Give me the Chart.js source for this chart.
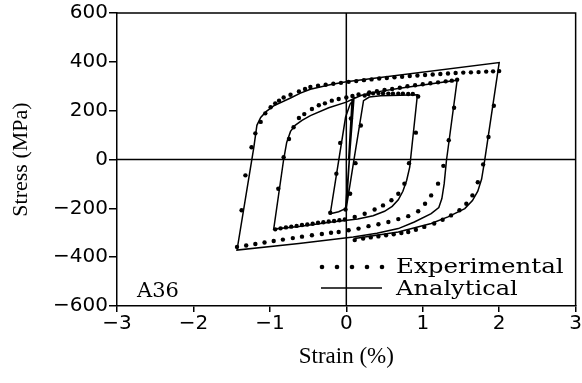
<!DOCTYPE html>
<html>
<head>
<meta charset="utf-8">
<script src="https://cdn.jsdelivr.net/npm/chart.js@4"></script>
<style>
  html, body { margin: 0; padding: 0; background: #fff; }
  #wrap { width: 582px; height: 383px; }
</style>
</head>
<body>
<div id="wrap"><canvas id="hysteresis" width="582" height="383"></canvas></div>
<script>
// strain (%), stress (MPa) pairs, in loading order
const analyticalSmall = [
  [0.03, 0], [0.075, 241], [0.10, 250], [-0.01, -201], [-0.10, -214], [-0.21, -222],
  [-0.01, 173], [0.05, 227], [0.09, 243], [0.0, -198], [0.095, -11], [0.225, 241],
  [0.30, 256], [0.45, 261], [0.70, 263], [0.93, 265]
];
const analyticalLoop2 = [
  [0.83, -30], [0.79, -85], [0.74, -130], [0.68, -165], [0.60, -192], [0.50, -212],
  [0.35, -230], [0.15, -244], [-0.19, -256], [-0.62, -274], [-0.95, -285],
  [-0.82, 0], [-0.78, 70], [-0.73, 115], [-0.67, 140], [-0.58, 160], [-0.47, 180],
  [-0.23, 212], [0.0, 235], [0.10, 250], [0.20, 263], [0.40, 277], [0.70, 292],
  [1.00, 305], [1.45, 325]
];
const analyticalLoop3 = [
  [1.31, -4], [1.28, -100], [1.25, -160], [1.21, -197], [1.11, -222], [0.89, -256],
  [0.68, -283], [0.40, -302], [0.09, -317], [-0.62, -344], [-1.43, -371]
];
const analyticalOuter = [
  [-1.21, 50], [-1.17, 140], [-1.12, 172], [-1.05, 196], [-0.95, 220], [-0.73, 252],
  [-0.60, 272], [-0.47, 288], [-0.20, 307], [0.0, 318], [2.0, 397],
  [1.81, -4], [1.77, -80], [1.72, -130], [1.65, -168], [1.55, -201], [1.33, -235],
  [1.11, -262], [0.68, -297], [0.11, -324]
];

const experimentalSmall = [
  [-0.21, -218], [-0.13, -58], [-0.08, 68], [0.06, 168], [-0.01, -205], [0.05, -140],
  [0.12, -15], [0.19, 139]
];
const experimentalLoop2 = [
  [0.24, 262], [0.29, 268], [0.35, 271], [0.42, 272], [0.48, 271], [0.55, 270],
  [0.61, 270], [0.68, 269], [0.74, 270], [0.81, 268], [0.87, 268], [0.94, 258],
  [0.91, 110], [0.82, -15], [0.76, -99], [0.68, -140], [0.59, -167], [0.48, -188],
  [0.37, -205], [0.24, -222], [0.11, -235], [-0.02, -246], [-0.09, -249], [-0.16, -252],
  [-0.23, -254], [-0.30, -257], [-0.37, -259], [-0.44, -263], [-0.51, -266], [-0.58, -268],
  [-0.65, -272], [-0.72, -275], [-0.79, -278], [-0.86, -282], [-0.93, -286],
  [-0.89, -120], [-0.82, 9], [-0.75, 84], [-0.69, 132], [-0.62, 170], [-0.55, 186],
  [-0.45, 207], [-0.36, 222], [-0.28, 230], [-0.19, 241], [-0.10, 248], [0.0, 254],
  [0.08, 260], [0.16, 266], [0.30, 275], [0.40, 280], [0.50, 285], [0.60, 289],
  [0.70, 294], [0.80, 300], [0.90, 304], [1.00, 308], [1.10, 312], [1.20, 316],
  [1.30, 320], [1.38, 323], [1.45, 327]
];
const experimentalLoop3 = [
  [1.41, 212], [1.34, 79], [1.27, -26], [1.20, -99], [1.11, -147], [1.03, -181],
  [0.94, -212], [0.81, -232], [0.68, -244], [0.55, -256], [0.42, -265], [0.29, -273],
  [0.16, -283], [0.03, -290], [-0.10, -297], [-0.20, -300], [-0.32, -305], [-0.45, -310],
  [-0.58, -316], [-0.70, -322], [-0.83, -328], [-0.95, -334], [-1.07, -340],
  [-1.19, -346], [-1.31, -352], [-1.43, -358]
];
const experimentalOuter = [
  [-1.37, -208], [-1.32, -65], [-1.24, 50], [-1.19, 107], [-1.12, 154], [-1.06, 189],
  [-0.99, 214], [-0.93, 230], [-0.88, 241], [-0.82, 254], [-0.73, 265], [-0.62, 279],
  [-0.54, 289], [-0.47, 297], [-0.37, 302], [-0.27, 306], [-0.17, 310], [-0.07, 314],
  [0.03, 318], [0.13, 321], [0.23, 325], [0.33, 328], [0.43, 332], [0.53, 334],
  [0.63, 337], [0.73, 339], [0.83, 342], [0.93, 344], [1.03, 346], [1.13, 348],
  [1.23, 350], [1.33, 352], [1.43, 354], [1.53, 356], [1.63, 357], [1.73, 358],
  [1.83, 360], [1.92, 361], [2.00, 362],
  [1.93, 220], [1.86, 92], [1.79, -20], [1.72, -93], [1.65, -147], [1.57, -181],
  [1.48, -208], [1.37, -229], [1.26, -247], [1.15, -262], [1.02, -276], [0.91, -288],
  [0.81, -297], [0.72, -301], [0.62, -306], [0.52, -310], [0.42, -315], [0.32, -319],
  [0.22, -324], [0.11, -330]
];

const strainTicks = [-3, -2, -1, 0, 1, 2, 3];
const stressTicks = [-600, -400, -200, 0, 200, 400, 600];
const legendLabels = ['Experimental', 'Analytical'];
const specimenLabel = 'A36';

const toPoints = pairs => pairs.map(p => ({ x: p[0], y: p[1] }));
const analytical = toPoints([].concat(analyticalSmall, analyticalLoop2, analyticalLoop3, analyticalOuter));
const experimental = toPoints([].concat(experimentalSmall, experimentalLoop2, experimentalLoop3, experimentalOuter));

const minus = v => String(v).replace('-', '\u2212');
const labelFont = '21px "DejaVu Serif"';

// stretched legend text, the original face is wider than DejaVu Serif
function wideText(ctx, text, x, y, stretch) {
  ctx.save();
  ctx.translate(x, y);
  ctx.scale(stretch, 1);
  ctx.fillText(text, 0, 0);
  ctx.restore();
}

const frame = {
  id: 'frame',
  beforeDatasetsDraw(chart) {
    const { ctx, chartArea: a, scales } = chart;
    const x0 = scales.x.getPixelForValue(0);
    const y0 = scales.y.getPixelForValue(0);
    ctx.save();
    ctx.strokeStyle = '#000';
    ctx.lineWidth = 1.5;
    ctx.beginPath();
    ctx.moveTo(a.left, a.top); ctx.lineTo(a.right, a.top); ctx.lineTo(a.right, a.bottom);
    ctx.moveTo(x0, a.top); ctx.lineTo(x0, a.bottom);
    ctx.moveTo(a.left, y0); ctx.lineTo(a.right, y0);
    ctx.stroke();
    ctx.restore();
  },
  afterDatasetsDraw(chart) {
    const { ctx } = chart;
    ctx.save();
    ctx.fillStyle = '#000';
    ctx.strokeStyle = '#000';
    ctx.font = labelFont;
    ctx.textBaseline = 'alphabetic';
    ctx.fillText(specimenLabel, 137, 297);
    // legend
    [322, 337, 352, 367, 382].forEach(x => {
      ctx.beginPath();
      ctx.arc(x, 267, 2.3, 0, Math.PI * 2);
      ctx.fill();
    });
    wideText(ctx, legendLabels[0], 396, 273, 1.17);
    ctx.lineWidth = 1.5;
    ctx.beginPath();
    ctx.moveTo(321, 288); ctx.lineTo(382, 288);
    ctx.stroke();
    wideText(ctx, legendLabels[1], 396, 295, 1.15);
    ctx.restore();
  }
};

new Chart(document.getElementById('hysteresis'), {
  type: 'scatter',
  data: {
    datasets: [
      {
        label: legendLabels[1],
        data: analytical,
        showLine: true,
        borderColor: '#000',
        borderWidth: 1.5,
        pointRadius: 0,
        tension: 0
      },
      {
        label: legendLabels[0],
        data: experimental,
        showLine: false,
        backgroundColor: '#000',
        borderColor: '#000',
        borderWidth: 0,
        pointRadius: 2.2
      }
    ]
  },
  options: {
    responsive: false,
    animation: false,
    devicePixelRatio: 1,
    layout: { padding: { left: 0, top: 12, right: 4, bottom: 0 } },
    plugins: {
      legend: { display: false },
      tooltip: { enabled: false }
    },
    scales: {
      x: {
        type: 'linear',
        min: strainTicks[0],
        max: strainTicks[strainTicks.length - 1],
        afterFit: s => { s.height = 77; },
        afterBuildTicks: s => { s.ticks = strainTicks.map(v => ({ value: v })); },
        ticks: {
          color: '#000',
          font: { family: 'DejaVu Sans', size: 20 },
          padding: 0,
          maxRotation: 0,
          callback: v => minus(v)
        },
        grid: { display: true, drawOnChartArea: false, color: '#000', lineWidth: 1.5, tickLength: 6 },
        border: { display: true, color: '#000', width: 1.5 },
        title: {
          display: true,
          text: 'Strain (%)',
          color: '#000',
          font: { family: 'Liberation Serif', size: 23 },
          padding: { top: 0, bottom: 12 }
        }
      },
      y: {
        type: 'linear',
        min: stressTicks[0],
        max: stressTicks[stressTicks.length - 1],
        afterFit: s => { s.width = 117; },
        afterBuildTicks: s => { s.ticks = stressTicks.map(v => ({ value: v })); },
        ticks: {
          color: '#000',
          font: { family: 'DejaVu Sans', size: 20 },
          padding: 1,
          callback: v => minus(v)
        },
        grid: { display: true, drawOnChartArea: false, color: '#000', lineWidth: 1.5, tickLength: 8 },
        border: { display: true, color: '#000', width: 1.5 },
        title: {
          display: true,
          text: 'Stress (MPa)',
          color: '#000',
          font: { family: 'Liberation Serif', size: 22 },
          padding: { top: 8, bottom: 0 }
        }
      }
    }
  },
  plugins: [frame]
});
</script>
</body>
</html>
